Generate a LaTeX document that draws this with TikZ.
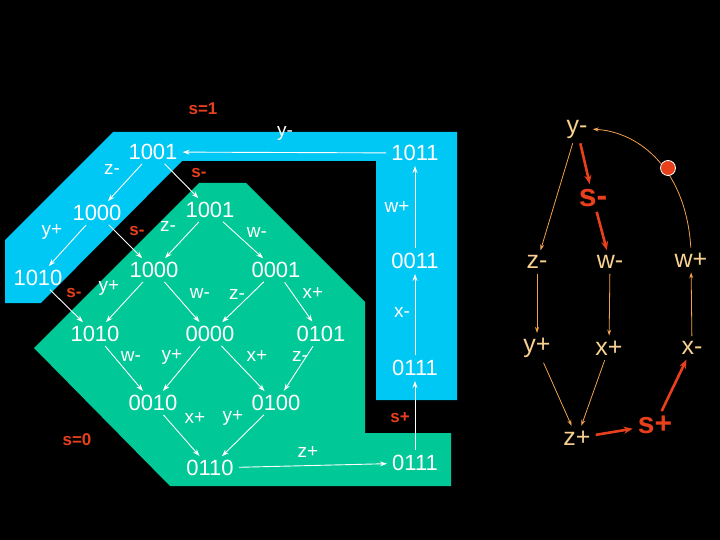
\documentclass[tikz,border=0pt]{standalone}
\usepackage{fontspec}
\setmainfont{Liberation Sans}
\usetikzlibrary{arrows.meta}
\definecolor{sky}{HTML}{00C8F5}
\definecolor{sea}{HTML}{00C896}
\definecolor{redl}{HTML}{E8401C}
\definecolor{otxt}{HTML}{F8D090}
\definecolor{oarr}{HTML}{F0A050}
\begin{document}
\begin{tikzpicture}[x=1pt,y=-1pt,
 st/.style={text=white,font=\fontsize{22}{22}\selectfont,inner sep=1pt},
 lb/.style={text=white,font=\fontsize{19}{19}\selectfont,inner sep=0pt},
 rl/.style={text=redl,font=\bfseries\fontsize{17}{17}\selectfont,inner sep=0pt},
 ar/.style={white,-{Stealth[length=7pt,width=5pt]},line width=0.9pt,shorten <=4pt,shorten >=4pt},
 ev/.style={text=otxt,font=\fontsize{25}{25}\selectfont,inner sep=2pt},
 oa/.style={oarr,-{Stealth[length=6pt,width=4pt]},line width=0.8pt,shorten <=3pt,shorten >=3pt},
 ra/.style={redl,-{Stealth[length=9pt,width=7pt]},line width=2.6pt,shorten <=3pt,shorten >=3pt}]
\fill[black] (0,0) rectangle (720,540);
\useasboundingbox (0,0) rectangle (720,540);
\fill[sky] (113,132)--(457,132)--(457,400)--(376,400)--(376,161)--(182,161)--(41,303)--(5,303)--(5,240)--cycle;
\fill[sea] (199,183)--(246,183)--(365,302)--(365,433)--(451,433)--(451,486)--(170,486)--(34,348)--cycle;
\node[st] (a) at (153,152) {1001};
\node[st] (b) at (97,213) {1000};
\node[st] (c) at (38,278) {1010};
\node[st] (d) at (210,210) {1001};
\node[st] (e) at (154,270) {1000};
\node[st] (f) at (276,270) {0001};
\node[st] (g) at (95,334) {1010};
\node[st] (h) at (210,334) {0000};
\node[st] (i) at (321,334) {0101};
\node[st] (j) at (153,403) {0010};
\node[st] (k) at (276,403) {0100};
\node[st] (l) at (210,468) {0110};
\node[st] (m) at (415,463) {0111};
\node[st] (n) at (415,368) {0111};
\node[st] (o) at (415,261) {0011};
\node[st] (p) at (415,153) {1011};
\draw[ar] (p)--(a);
\draw[ar] (a)--(b); \draw[ar] (b)--(c);
\draw[ar] (a)--(d); \draw[ar] (b)--(e); \draw[ar] (c)--(g);
\draw[ar] (d)--(e); \draw[ar] (d)--(f);
\draw[ar] (e)--(g); \draw[ar] (e)--(h); \draw[ar] (f)--(h); \draw[ar] (f)--(i);
\draw[ar] (g)--(j); \draw[ar] (h)--(j); \draw[ar] (h)--(k); \draw[ar] (i)--(k);
\draw[ar] (j)--(l); \draw[ar] (k)--(l);
\draw[ar] (l)--(m); \draw[ar] (m)--(n); \draw[ar] (n)--(o); \draw[ar] (o)--(p);
\node[rl] (s1) at (203,109) {s=1};
\node[rl] (s0) at (77,440) {s=0};
\node[lb] (l1) at (285,133) {y-};
\node[lb] (l2) at (112,169) {z-};
\node[rl] (l3) at (199,173) {s-};
\node[lb] (l4) at (52,232) {y+};
\node[rl] (l5) at (137,231) {s-};
\node[lb] (l6) at (168,226) {z-};
\node[lb] (l7) at (257,232) {w-};
\node[rl] (l8) at (74,293) {s-};
\node[lb] (l9) at (109,288) {y+};
\node[lb] (l10) at (200,293) {w-};
\node[lb] (l11) at (237,294) {z-};
\node[lb] (l12) at (313,293) {x+};
\node[lb] (l13) at (131,356) {w-};
\node[lb] (l14) at (172,357) {y+};
\node[lb] (l15) at (257,356) {x+};
\node[lb] (l16) at (300,356) {z-};
\node[lb] (l17) at (195,418) {x+};
\node[lb] (l18) at (233,418) {y+};
\node[lb] (l19) at (308,452) {z+};
\node[rl] (l20) at (400,418) {s+};
\node[lb] (l21) at (397,207) {w+};
\node[lb] (l22) at (402,312) {x-};
% right graph
\node[ev] (ym) at (577,129) {y-};
\node[text=redl,font=\bfseries\fontsize{32}{32}\selectfont,inner sep=2pt] (sm) at (593,198) {s-};
\node[ev] (zm) at (537,262) {z-};
\node[ev] (wm) at (610,262) {w-};
\node[ev] (wp) at (691,260) {w+};
\node[ev] (yp) at (537,348) {y+};
\node[ev] (xp) at (609,348) {x+};
\node[ev] (xm) at (692,348) {x-};
\node[ev] (zp) at (577,438) {z+};
\node[text=redl,font=\bfseries\fontsize{30}{30}\selectfont,inner sep=2pt] (sp) at (655,425) {s+};
\draw[oa] (ym)--(zm); \draw[oa] (zm)--(yp); \draw[oa] (wm)--(xp);
\draw[oa] (yp)--(zp); \draw[oa] (xp)--(zp); \draw[oa] (xm)--(wp);
\draw[oa] (wp.north) .. controls (686,170) and (640,132) .. (ym.east);
\draw[ra] (ym)--(sm); \draw[ra] (sm)--(wm);
\draw[ra] (zp)--(sp); \draw[ra] (sp)--(xm);
\fill[redl,draw=white,line width=0.8pt] (668,168) circle (7.5);
\end{tikzpicture}
\end{document}
